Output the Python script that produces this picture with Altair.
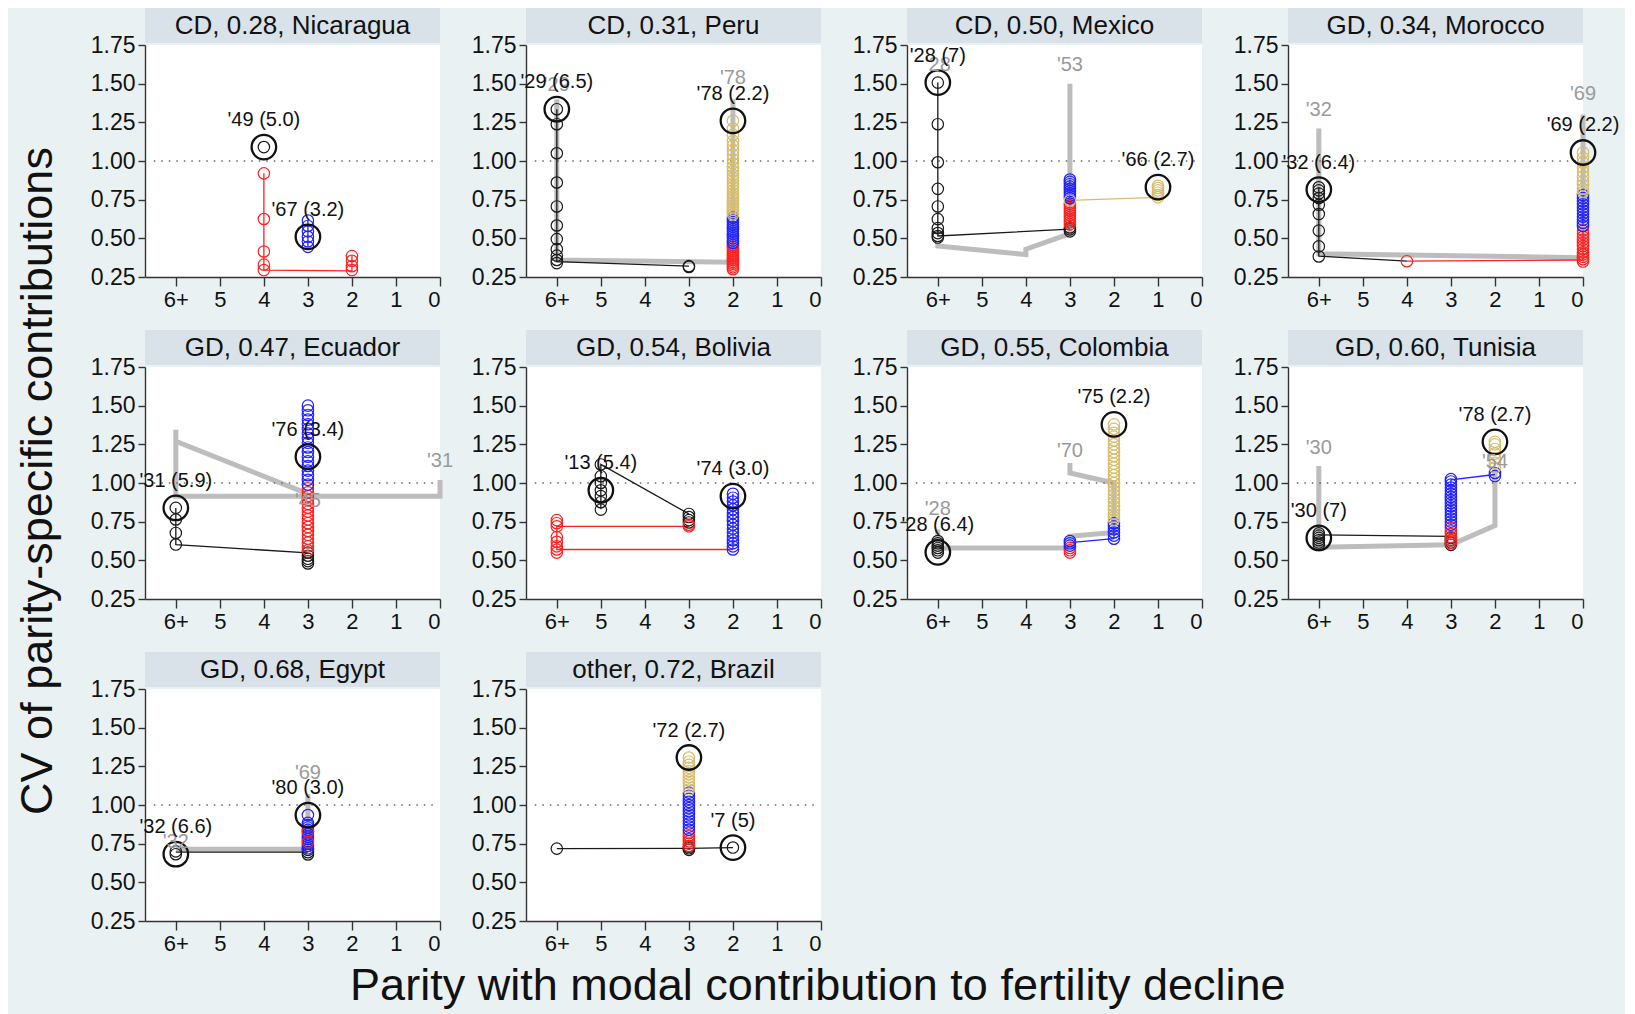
import altair as alt
import pandas as pd

FONT = "Liberation Sans"
BG = "#eaf1f2"
STRIP = "#d8e2e8"
COLORS = {"K": "#1a1a1a", "R": "#ff2020", "B": "#2020ff", "G": "#d6bd6c"}
GRAY_LINE = "#bdbdbd"
GRAY_TEXT = "#9a9a9a"

titles = ["CD, 0.28, Nicaragua", "CD, 0.31, Peru", "CD, 0.50, Mexico", "GD, 0.34, Morocco",
          "GD, 0.47, Ecuador", "GD, 0.54, Bolivia", "GD, 0.55, Colombia", "GD, 0.60, Tunisia",
          "GD, 0.68, Egypt", "other, 0.72, Brazil"]

x_ticks = [0, 1, 2, 3, 4, 5, 6]
y_ticks = [0.25, 0.50, 0.75, 1.00, 1.25, 1.50, 1.75]

# ---- Nicaragua ----
nic_pts = [(4, "K", [1.09]), (4, "R", [0.92, 0.625, 0.415, 0.33, 0.295]),
           (2, "R", [0.385, 0.355, 0.32, 0.295]), (3, "B", [0.615, 0.58, 0.545, 0.51, 0.48, 0.445])]
nic_lines = [("R", [(4, 0.92), (4, 0.295), (2, 0.29), (2, 0.385)]), ("B", [(3, 0.445), (3, 0.615)])]
nic_gray = []
nic_glab = []
nic_big = [(4, 1.09, "'49 (5.0)"), (3, 0.51, "'67 (3.2)")]

# ---- Peru ----
per_pts = [(6, "K", [1.335, 1.238, 1.05, 0.861, 0.706, 0.583, 0.495, 0.43, 0.388, 0.36, 0.34]),
           (3, "K", [0.32, 0.315]),
           (2, "R", [0.30, 0.312, 0.324, 0.336, 0.348, 0.36, 0.372, 0.384, 0.396, 0.408, 0.42, 0.432, 0.444, 0.456]),
           (2, "B", [0.47, 0.485, 0.50, 0.515, 0.53, 0.545, 0.56, 0.575, 0.59, 0.605, 0.62, 0.635]),
           (2, "G", [0.655, 0.67, 0.685, 0.70, 0.715, 0.73, 0.745, 0.76, 0.775, 0.79, 0.81, 0.83, 0.85, 0.87,
                     0.89, 0.91, 0.935, 0.96, 0.985, 1.01, 1.04, 1.07, 1.10, 1.13, 1.17, 1.21, 1.26])]
per_lines = [("K", [(6, 1.335), (6, 0.35), (3, 0.32)]), ("R", [(2, 0.30), (2, 0.456)]),
             ("B", [(2, 0.47), (2, 0.635)]), ("G", [(2, 0.655), (2, 1.26)])]
per_gray = [(6, 1.40), (6, 0.36), (2, 0.345), (2, 1.40)]
per_glab = [(6, 1.49, "'29"), (2, 1.535, "'78")]
per_big = [(6, 1.335, "'29 (6.5)"), (2, 1.26, "'78 (2.2)")]

# ---- Mexico ----
mex_pts = [(6, "K", [1.507, 1.238, 0.992, 0.82, 0.706, 0.624, 0.566, 0.534, 0.515, 0.505]),
           (3, "K", [0.545, 0.558, 0.57]),
           (3, "R", [0.59, 0.605, 0.62, 0.635, 0.65, 0.665, 0.68, 0.695, 0.71, 0.725]),
           (3, "B", [0.76, 0.775, 0.79, 0.805, 0.82, 0.835, 0.85, 0.865, 0.88]),
           (3, "G", [0.745]),
           (1, "G", [0.765, 0.78, 0.795, 0.81, 0.825, 0.84])]
mex_lines = [("K", [(6, 1.507), (6, 0.515), (3, 0.56)]), ("G", [(3, 0.745), (1, 0.765)]),
             ("R", [(3, 0.59), (3, 0.725)]), ("B", [(3, 0.76), (3, 0.88)])]
mex_gray = [(6, 0.47), (6, 0.45), (4, 0.395), (4, 0.43), (3, 0.53), (3, 1.50)]
mex_glab = [(6, 1.62, "'28"), (3, 1.62, "'53")]
mex_big = [(6, 1.507, "'28 (7)"), (1, 0.831, "'66 (2.7)")]

# ---- Morocco ----
mor_pts = [(6, "K", [0.383, 0.448, 0.55, 0.657, 0.717, 0.76, 0.79, 0.81, 0.83]),
           (4, "R", [0.352]),
           (0, "R", [0.35, 0.365, 0.38, 0.395, 0.41, 0.43, 0.45, 0.47, 0.49, 0.51, 0.53, 0.55]),
           (0, "B", [0.58, 0.60, 0.62, 0.64, 0.66, 0.68, 0.70, 0.72, 0.74, 0.76, 0.78]),
           (0, "G", [0.80, 0.82, 0.845, 0.87, 0.90, 0.93, 0.96, 0.99, 1.02, 1.055])]
mor_lines = [("K", [(6, 0.83), (6, 0.385), (4, 0.352)]), ("R", [(4, 0.352), (0, 0.36)]),
             ("R", [(0, 0.35), (0, 0.55)]), ("B", [(0, 0.58), (0, 0.78)])]
mor_gray = [(6, 1.21), (6, 0.40), (0, 0.375), (0, 1.30)]
mor_glab = [(6, 1.33, "'32"), (0, 1.43, "'69")]
mor_big = [(6, 0.815, "'32 (6.4)"), (0, 1.055, "'69 (2.2)")]

# ---- Ecuador ----
ecu_pts = [(6, "K", [0.839, 0.764, 0.677, 0.602]),
           (3, "K", [0.48, 0.495, 0.51, 0.53, 0.55]),
           (3, "R", [0.565, 0.59, 0.615, 0.64, 0.665, 0.69, 0.715, 0.74, 0.765, 0.79, 0.815, 0.84,
                     0.865, 0.89, 0.915, 0.94, 0.965]),
           (3, "B", [0.99, 1.02, 1.05, 1.08, 1.11, 1.14, 1.17, 1.20, 1.23, 1.26, 1.29, 1.32, 1.35,
                     1.38, 1.41, 1.44, 1.47, 1.50])]
ecu_lines = [("K", [(6, 0.839), (6, 0.602), (3, 0.548)])]
ecu_gray = [(0, 1.02), (0, 0.915), (6, 0.915), (6, 1.345), (6, 1.27), (3, 0.93)]
ecu_glab = [(0, 1.14, "'31"), (3, 0.883, "'45")]
ecu_big = [(6, 0.839, "'31 (5.9)"), (3, 1.17, "'76 (3.4)")]

# ---- Bolivia ----
bol_pts = [(5, "K", [1.12, 1.044, 1.0, 0.953, 0.915, 0.876, 0.828]),
           (3, "K", [0.80, 0.78, 0.76, 0.745]),
           (3, "R", [0.72, 0.73]),
           (6, "R", [0.76, 0.74, 0.72, 0.65, 0.62, 0.59, 0.57, 0.55]),
           (2, "B", [0.57, 0.59, 0.61, 0.63, 0.655, 0.68, 0.705, 0.73, 0.755, 0.78, 0.805, 0.83,
                     0.855, 0.88, 0.905, 0.93])]
bol_lines = [("K", [(5, 0.83), (5, 1.12), (3, 0.80)]),
             ("R", [(3, 0.72), (6, 0.72), (6, 0.57), (2, 0.57)]), ("B", [(2, 0.57), (2, 0.93)])]
bol_gray = []
bol_glab = []
bol_big = [(5, 0.953, "'13 (5.4)"), (2, 0.915, "'74 (3.0)")]

# ---- Colombia ----
col_pts = [(6, "K", [0.55, 0.565, 0.58, 0.595, 0.61, 0.625]),
           (3, "R", [0.55, 0.565, 0.58]),
           (3, "B", [0.595, 0.61, 0.625]),
           (2, "B", [0.64, 0.66, 0.68, 0.70, 0.72, 0.74]),
           (2, "G", [0.76, 0.78, 0.80, 0.825, 0.85, 0.875, 0.90, 0.925, 0.95, 0.975, 1.0, 1.025, 1.05,
                     1.075, 1.10, 1.125, 1.15, 1.175, 1.20, 1.225, 1.25, 1.275, 1.30, 1.325, 1.35, 1.379])]
col_lines = [("B", [(3, 0.615), (2, 0.64)]), ("B", [(2, 0.64), (2, 0.74)])]
col_gray = [(6, 0.70), (6, 0.58), (3, 0.58), (3, 0.655), (2, 0.68), (2, 1.0), (3, 1.065), (3, 1.13)]
col_glab = [(6, 0.83, "'28"), (3, 1.21, "'70")]
col_big = [(6, 0.552, "'28 (6.4)"), (2, 1.379, "'75 (2.2)")]

# ---- Tunisia ----
tun_pts = [(6, "K", [0.60, 0.615, 0.63, 0.645, 0.66, 0.675]),
           (3, "K", [0.60, 0.615, 0.63, 0.645]),
           (3, "R", [0.61, 0.63, 0.65, 0.67, 0.69, 0.71]),
           (3, "B", [0.73, 0.75, 0.77, 0.79, 0.81, 0.83, 0.85, 0.87, 0.89, 0.91, 0.93, 0.95, 0.97,
                     0.99, 1.01, 1.025]),
           (2, "B", [1.045, 1.065]),
           (2, "G", [1.10, 1.13, 1.16, 1.19, 1.22, 1.25, 1.266])]
tun_lines = [("K", [(6, 0.665), (3, 0.655)]), ("B", [(3, 1.02), (2, 1.055)]), ("B", [(3, 0.73), (3, 1.02)])]
tun_gray = [(6, 1.11), (6, 0.585), (3, 0.60), (2, 0.725), (2, 1.10)]
tun_glab = [(6, 1.228, "'30"), (2, 1.135, "'54")]
tun_big = [(6, 0.645, "'30 (7)"), (2, 1.266, "'78 (2.7)")]

# ---- Egypt ----
egy_pts = [(6, "K", [0.682, 0.70]),
           (3, "K", [0.68, 0.695, 0.71]),
           (3, "B", [0.72, 0.735, 0.75, 0.765, 0.78, 0.795, 0.81, 0.825, 0.84, 0.855, 0.87, 0.885, 0.935]),
           (3, "R", [0.76, 0.83])]
egy_lines = [("K", [(6, 0.695), (3, 0.695)])]
egy_gray = [(6, 0.714), (3, 0.714), (3, 1.07)]
egy_glab = [(6, 0.76, "'32"), (3, 1.21, "'69")]
egy_big = [(6, 0.682, "'32 (6.6)"), (3, 0.934, "'80 (3.0)")]

# ---- Brazil ----
bra_pts = [(6, "K", [0.718]),
           (3, "K", [0.71, 0.72, 0.73]),
           (3, "R", [0.735, 0.75, 0.765, 0.78, 0.80, 0.82]),
           (3, "B", [0.84, 0.86, 0.88, 0.90, 0.92, 0.94, 0.96, 0.98, 1.0, 1.02, 1.04, 1.06, 1.08]),
           (3, "G", [1.10, 1.12, 1.14, 1.16, 1.18, 1.20, 1.22, 1.24, 1.26, 1.28, 1.307]),
           (2, "K", [0.725])]
bra_lines = [("K", [(6, 0.718), (3, 0.72), (2, 0.725)])]
bra_gray = []
bra_glab = []
bra_big = [(3, 1.307, "'72 (2.7)"), (2, 0.725, "'7 (5)")]

panels_data = [
    (nic_pts, nic_lines, nic_gray, nic_glab, nic_big),
    (per_pts, per_lines, per_gray, per_glab, per_big),
    (mex_pts, mex_lines, mex_gray, mex_glab, mex_big),
    (mor_pts, mor_lines, mor_gray, mor_glab, mor_big),
    (ecu_pts, ecu_lines, ecu_gray, ecu_glab, ecu_big),
    (bol_pts, bol_lines, bol_gray, bol_glab, bol_big),
    (col_pts, col_lines, col_gray, col_glab, col_big),
    (tun_pts, tun_lines, tun_gray, tun_glab, tun_big),
    (egy_pts, egy_lines, egy_gray, egy_glab, egy_big),
    (bra_pts, bra_lines, bra_gray, bra_glab, bra_big),
]

W, H = 295, 232
xs = alt.Scale(domain=[0, 6.7], reverse=True, nice=False, zero=False)
ys = alt.Scale(domain=[0.25, 1.75], nice=False, zero=False)
xax = alt.Axis(values=x_ticks, labelExpr="datum.value == 6 ? '6+' : datum.label", title=None,
               grid=False, labelFontSize=22, tickSize=9, labelPadding=3)
yax = alt.Axis(values=y_ticks, format=".2f", title=None, grid=False, labelFontSize=23,
               tickSize=7, labelPadding=3)
cscale = alt.Scale(domain=list(COLORS.keys()), range=list(COLORS.values()))


def X(f="x"):
    return alt.X(f"{f}:Q", scale=xs, axis=xax)


def Y(f="y"):
    return alt.Y(f"{f}:Q", scale=ys, axis=yax)


def make_panel(title, pts, lines, gray, glab, big):
    layers = []
    one = alt.Data(values=[{"a": 1}])
    layers.append(alt.Chart(one).mark_rect(color=STRIP).encode(
        x=alt.value(0), x2=alt.value(W), y=alt.value(-37), y2=alt.value(-2)))
    layers.append(alt.Chart(one).mark_text(text=title, fontSize=26, font=FONT, color="#111").encode(
        x=alt.value(W / 2), y=alt.value(-19)))
    if gray:
        gdf = pd.DataFrame([{"o": i, "x": p[0], "y": p[1]} for i, p in enumerate(gray)])
        layers.append(alt.Chart(gdf).mark_line(color=GRAY_LINE, strokeWidth=5).encode(
            x=X(), y=Y(), order="o:Q"))
    layers.append(alt.Chart(one).mark_rule(color="#666", strokeDash=[1.5, 6], strokeWidth=1.3).encode(
        x=alt.X(datum=6.5, type="quantitative", scale=xs, axis=xax),
        x2=alt.X2(datum=0.05),
        y=alt.Y(datum=1.0, type="quantitative", scale=ys, axis=yax)))
    if lines:
        rows = []
        for s, (c, path) in enumerate(lines):
            for i, p in enumerate(path):
                rows.append({"seg": s, "o": i, "c": c, "x": p[0], "y": p[1]})
        layers.append(alt.Chart(pd.DataFrame(rows)).mark_line(strokeWidth=1.3).encode(
            x=X(), y=Y(), detail="seg:N", order="o:Q",
            color=alt.Color("c:N", scale=cscale, legend=None)))
    prow = []
    for xv, c, yl in pts:
        for yv in yl:
            prow.append({"x": xv, "y": yv, "c": c})
    layers.append(alt.Chart(pd.DataFrame(prow)).mark_point(
        shape="circle", filled=False, size=130, strokeWidth=1.2, opacity=1).encode(
        x=X(), y=Y(), color=alt.Color("c:N", scale=cscale, legend=None)))
    bdf = pd.DataFrame([{"x": b[0], "y": b[1], "t": b[2]} for b in big])
    layers.append(alt.Chart(bdf).mark_point(
        shape="circle", filled=False, size=600, strokeWidth=2.3, color="#111", opacity=1).encode(
        x=X(), y=Y()))
    if glab:
        gl = pd.DataFrame([{"x": g[0], "y": g[1], "t": g[2]} for g in glab])
        layers.append(alt.Chart(gl).mark_text(fontSize=20, font=FONT, color=GRAY_TEXT).encode(
            x=X(), y=Y(), text="t:N"))
    layers.append(alt.Chart(bdf).mark_text(fontSize=20, font=FONT, color="#111", dy=-27).encode(
        x=X(), y=Y(), text="t:N"))
    return alt.layer(*layers).properties(width=W, height=H)


panels = [make_panel(t, *d) for t, d in zip(titles, panels_data)]

grid = alt.concat(*panels, columns=4, spacing={"row": 90, "column": 86}, bounds="flush").properties(
    title=alt.TitleParams("CV of parity-specific contributions", orient="left", anchor="middle",
                          fontSize=45, font=FONT, fontWeight="normal", color="#111", offset=29))

chart = alt.vconcat(grid).properties(
    title=alt.TitleParams("Parity with modal contribution to fertility decline", orient="bottom",
                          anchor="middle", fontSize=45, font=FONT, fontWeight="normal", color="#111",
                          offset=10),
    background=BG,
    padding={"left": 8, "top": 0, "right": 5, "bottom": 5},
).configure_view(fill="white", strokeWidth=0).configure_axis(
    domainColor="#333", tickColor="#333", domainWidth=1.4, tickWidth=1.4,
    labelColor="#111", labelFont=FONT)

chart.save("out.html", embed_options={"renderer": "svg", "actions": False})
